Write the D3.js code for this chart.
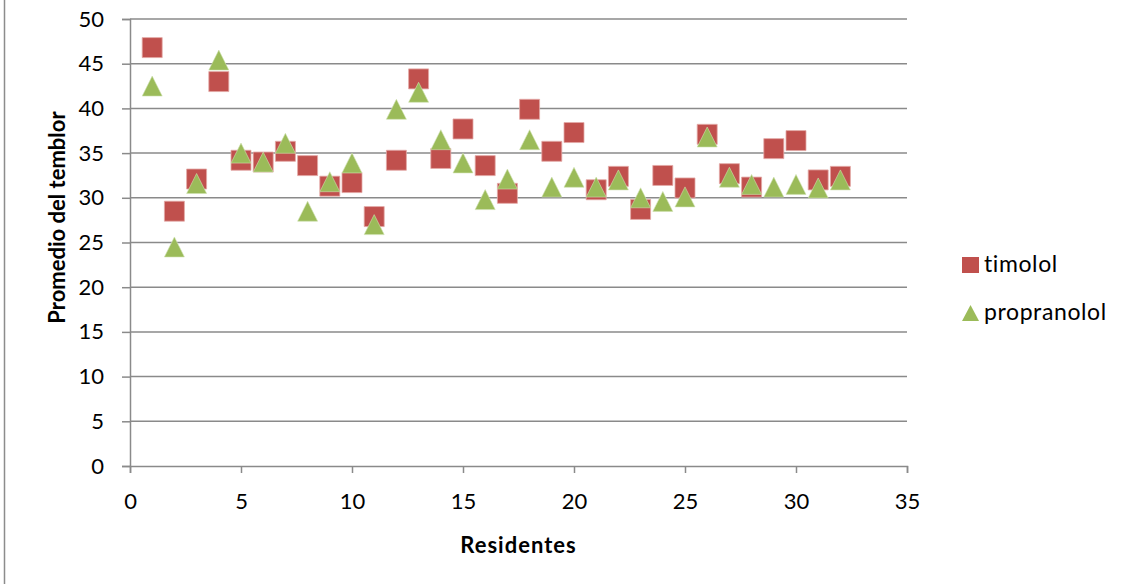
<!DOCTYPE html>
<html>
<head>
<meta charset="utf-8">
<script src="https://cdn.jsdelivr.net/npm/d3@7"></script>
<style>
  html, body { margin: 0; padding: 0; background: #fff; }
  svg { display: block; }
  text { font-family: Lato, "Open Sans", sans-serif; fill: #000; }
</style>
</head>
<body>
<svg id="chart" width="1132" height="584"></svg>
<script>
// Residents and mean tremor per treatment
const residentes = [1,2,3,4,5,6,7,8,9,10,11,12,13,14,15,16,17,18,19,20,21,22,23,24,25,26,27,28,29,30,31,32];
const timolol = [46.8,28.5,32.1,43.0,34.2,34.0,35.2,33.6,31.3,31.7,27.9,34.2,43.3,34.4,37.7,33.6,30.5,39.9,35.2,37.3,30.9,32.4,28.7,32.5,31.1,37.1,32.7,31.2,35.5,36.4,32.0,32.4];
const propranolol = [42.5,24.5,31.6,45.4,35.0,34.0,36.1,28.5,31.8,33.9,27.0,39.9,41.8,36.5,33.9,29.8,32.1,36.5,31.2,32.3,31.2,32.0,30.0,29.6,30.1,36.8,32.3,31.5,31.2,31.5,31.1,32.0];
const xTicks = [0,5,10,15,20,25,30,35];
const yTicks = [0,5,10,15,20,25,30,35,40,45,50];
const seriesNames = ["timolol", "propranolol"];

const svg = d3.select("#chart");
const plotLeft = 130, plotRight = 907, plotTop = 19, plotBottom = 466;
const gridColor = "#8a8a8a";
const red = "#C0504D", green = "#9BBB59";

const x = d3.scaleLinear().domain([0, 35]).range([plotLeft, plotRight]);
const y = d3.scaleLinear().domain([0, 50]).range([plotBottom, plotTop]);

// outer frame edge on the left
svg.append("line").attr("x1", 4.5).attr("x2", 4.5).attr("y1", 0).attr("y2", 584)
  .attr("stroke", "#8c8c8c").attr("stroke-width", 1.5);

// horizontal gridlines
svg.append("g").selectAll("line").data(yTicks.filter(d => d > 0)).join("line")
  .attr("x1", plotLeft).attr("x2", plotRight)
  .attr("y1", d => y(d)).attr("y2", d => y(d))
  .attr("stroke", gridColor).attr("stroke-width", 1.5);

// y axis
const yAxis = svg.append("g").attr("transform", `translate(${plotLeft},0)`)
  .call(d3.axisLeft(y).tickValues(yTicks).tickSize(8).tickPadding(18));
// x axis
const xAxis = svg.append("g").attr("transform", `translate(0,${plotBottom})`)
  .call(d3.axisBottom(x).tickValues(xTicks).tickSize(7).tickPadding(20));

[yAxis, xAxis].forEach(g => {
  g.select(".domain").attr("stroke", gridColor).attr("stroke-width", 1.5);
  g.selectAll(".tick line").attr("stroke", gridColor).attr("stroke-width", 1.5);
  g.selectAll(".tick text").attr("font-size", 22).attr("font-family", "Lato, sans-serif").attr("fill", "#000");
});

// axis titles
svg.append("text").attr("x", (plotLeft + plotRight) / 2).attr("y", 553)
  .attr("text-anchor", "middle").attr("font-size", 22).attr("font-weight", "bold")
  .attr("letter-spacing", 1)
  .text("Residentes");
svg.append("text").attr("transform", "translate(65,217.5) rotate(-90)")
  .attr("text-anchor", "middle").attr("font-size", 22).attr("font-weight", "bold")
  .text("Promedio del temblor");

// marker shapes centred on the data point
const sq = 10;
const squarePath = `M${-sq},${-sq}H${sq}V${sq}H${-sq}Z`;
const triPath = `M0,-10L10,10L-10,10Z`;

const pts = (vals) => residentes.map((r, i) => ({ r, v: vals[i] }));

svg.append("g").selectAll("path").data(pts(timolol)).join("path")
  .attr("d", squarePath)
  .attr("transform", d => `translate(${x(d.r)},${y(d.v)})`)
  .attr("fill", red).attr("stroke", "#e3a9a7").attr("stroke-width", 0.8);

svg.append("g").selectAll("path").data(pts(propranolol)).join("path")
  .attr("d", triPath)
  .attr("transform", d => `translate(${x(d.r)},${y(d.v)})`)
  .attr("fill", green).attr("stroke", "#cfe0b0").attr("stroke-width", 0.6);

// legend
const legend = svg.append("g");
legend.append("rect").attr("x", 962).attr("y", 257).attr("width", 17).attr("height", 16).attr("fill", red);
legend.append("text").attr("x", 984).attr("y", 272).attr("font-size", 23).attr("letter-spacing", 0.6).text(seriesNames[0]);
legend.append("path").attr("d", "M970.5,305L979,321L962,321Z").attr("fill", green);
legend.append("text").attr("x", 984).attr("y", 320).attr("font-size", 23).attr("letter-spacing", 0.6).text(seriesNames[1]);
</script>
</body>
</html>
